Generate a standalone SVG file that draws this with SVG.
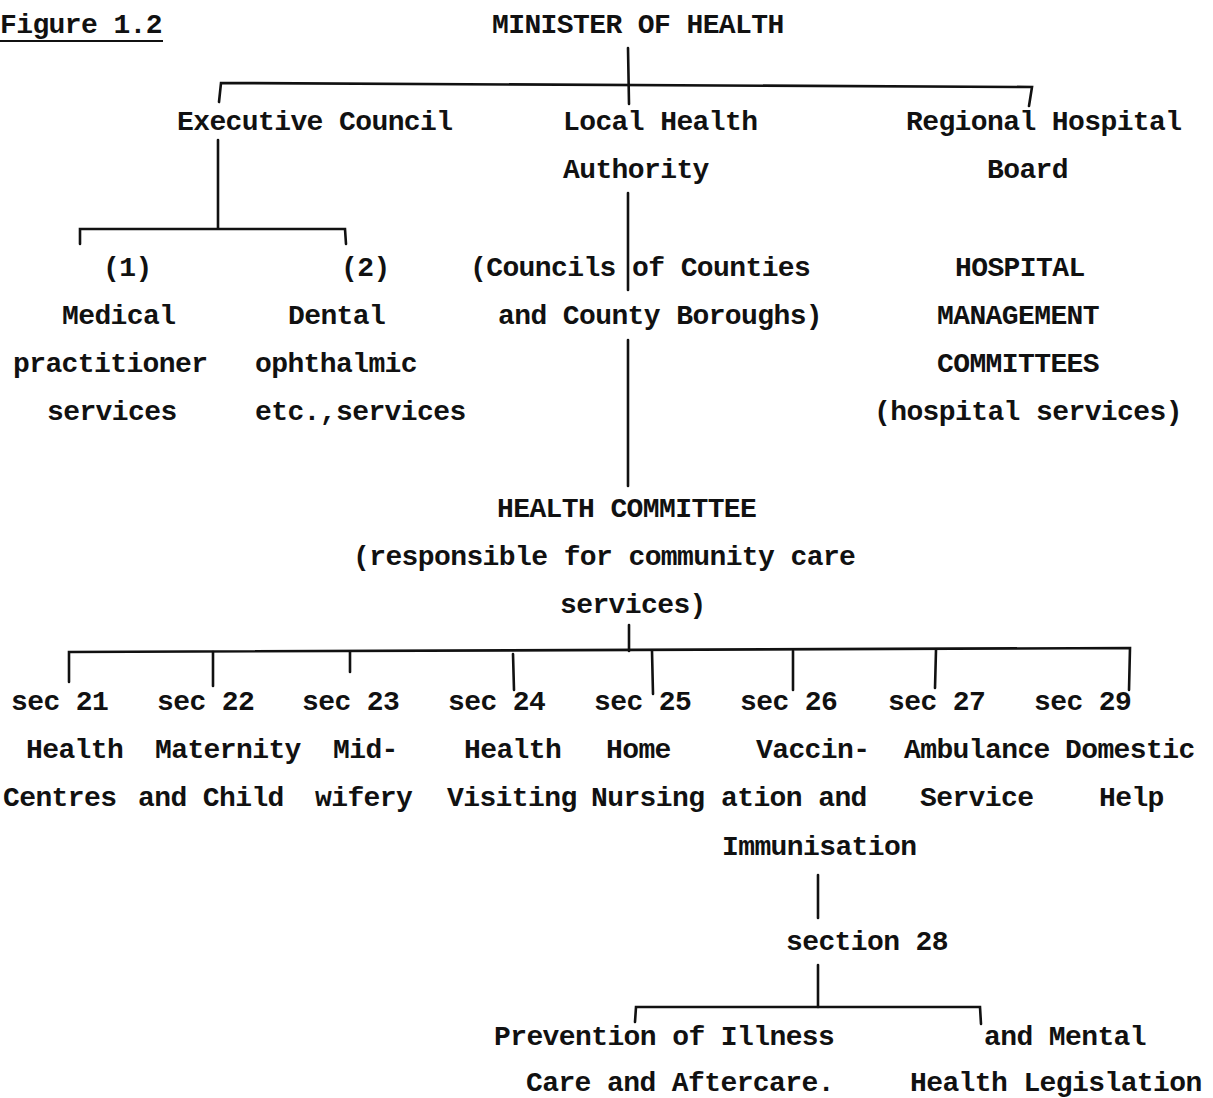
<svg xmlns="http://www.w3.org/2000/svg" width="1213" height="1098" viewBox="0 0 1213 1098">
<style>
text{font-family:"Liberation Mono","Courier New",monospace;font-size:28px;font-weight:bold;letter-spacing:-0.6px;fill:#111}
.c line,.c path{stroke:#111;stroke-width:2.6;fill:none;stroke-linecap:round}
</style>
<rect width="1213" height="1098" fill="#fff"/>
<g id="figure-label"><text x="0" y="33">Figure 1.2</text><line x1="0" y1="41" x2="163" y2="41" stroke="#111" stroke-width="2.2"/></g>
<g id="minister"><text x="492" y="33">MINISTER OF HEALTH</text></g>
<g id="executive-council"><text x="177" y="130">Executive Council</text></g>
<g id="local-health-authority"><text x="563" y="130">Local Health</text><text x="563" y="178">Authority</text></g>
<g id="regional-hospital-board"><text x="906" y="130">Regional Hospital</text><text x="987" y="178">Board</text></g>
<g id="medical"><text x="103" y="276">(1)</text><text x="62" y="324">Medical</text><text x="13" y="372">practitioner</text><text x="47" y="420">services</text></g>
<g id="dental"><text x="341" y="276">(2)</text><text x="288" y="324">Dental</text><text x="255" y="372">ophthalmic</text><text x="255" y="420">etc.,services</text></g>
<g id="councils"><text x="470" y="276">(Councils of Counties</text><text x="498" y="324">and County Boroughs)</text></g>
<g id="hmc"><text x="955" y="276">HOSPITAL</text><text x="937" y="324">MANAGEMENT</text><text x="937" y="372">COMMITTEES</text><text x="874" y="420">(hospital services)</text></g>
<g id="health-committee"><text x="497" y="517">HEALTH COMMITTEE</text><text x="353" y="565">(responsible for community care</text><text x="560" y="613">services)</text></g>
<g id="sec21"><text x="11" y="710">sec 21</text><text x="26" y="758">Health</text><text x="3" y="806">Centres</text></g>
<g id="sec22"><text x="157" y="710">sec 22</text><text x="155" y="758">Maternity</text><text x="138" y="806">and Child</text></g>
<g id="sec23"><text x="302" y="710">sec 23</text><text x="333" y="758">Mid-</text><text x="315" y="806">wifery</text></g>
<g id="sec24"><text x="448" y="710">sec 24</text><text x="464" y="758">Health</text><text x="447" y="806">Visiting</text></g>
<g id="sec25"><text x="594" y="710">sec 25</text><text x="606" y="758">Home</text><text x="591" y="806">Nursing</text></g>
<g id="sec26"><text x="740" y="710">sec 26</text><text x="756" y="758">Vaccin-</text><text x="721" y="806">ation and</text><text x="722" y="855">Immunisation</text></g>
<g id="sec27"><text x="888" y="710">sec 27</text><text x="904" y="758">Ambulance</text><text x="920" y="806">Service</text></g>
<g id="sec29"><text x="1034" y="710">sec 29</text><text x="1065" y="758">Domestic</text><text x="1099" y="806">Help</text></g>
<g id="section28"><text x="786" y="950">section 28</text></g>
<g id="prevention"><text x="494" y="1045">Prevention of Illness</text><text x="526" y="1091">Care and Aftercare.</text></g>
<g id="mental-health"><text x="984" y="1045">and Mental</text><text x="910" y="1091">Health Legislation</text></g>
<g id="connectors" class="c">
<path d="M628,48 L629,104"/>
<path d="M219,102 L221,83 L1032,87 L1029,106"/>
<line x1="218" y1="140" x2="218" y2="228"/>
<path d="M80,244 L80,229 L345,229 L346,244"/>
<line x1="628" y1="193" x2="628" y2="290"/>
<line x1="628" y1="340" x2="628" y2="486"/>
<line x1="629" y1="625" x2="629" y2="651"/>
<path d="M69,682 L69,652 L1130,648 L1129,690"/>
<line x1="213" y1="652" x2="213" y2="686"/>
<line x1="350" y1="652" x2="350" y2="672"/>
<line x1="513" y1="654" x2="514" y2="690"/>
<line x1="652" y1="651" x2="653" y2="694"/>
<line x1="793" y1="651" x2="793" y2="690"/>
<line x1="936" y1="650" x2="935" y2="688"/>
<line x1="818" y1="875" x2="818" y2="918"/>
<line x1="818" y1="965" x2="818" y2="1007"/>
<path d="M635,1022 L636,1007 L980,1007 L981,1024"/>
</g>
</svg>
